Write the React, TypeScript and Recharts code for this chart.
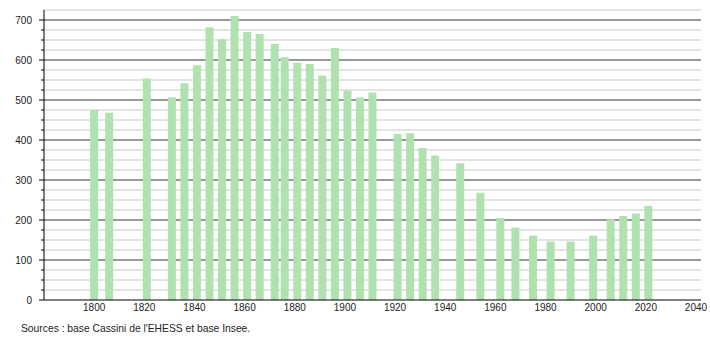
import React from "react";
import { ComposedChart, Bar, XAxis, YAxis, CartesianGrid } from "recharts";

const years = [1800, 1806, 1821, 1831, 1836, 1841, 1846, 1851, 1856, 1861, 1866, 1872, 1876, 1881, 1886, 1891, 1896, 1901, 1906, 1911, 1921, 1926, 1931, 1936, 1946, 1954, 1962, 1968, 1975, 1982, 1990, 1999, 2006, 2011, 2016, 2021];
const population = [475, 468, 554, 507, 542, 587, 682, 652, 710, 670, 665, 640, 607, 593, 590, 561, 630, 523, 507, 519, 415, 417, 380, 361, 342, 268, 205, 181, 161, 146, 146, 161, 202, 210, 216, 235];
const xTicks = [1800, 1820, 1840, 1860, 1880, 1900, 1920, 1940, 1960, 1980, 2000, 2020, 2040];
const majorValues = [100, 200, 300, 400, 500, 600, 700];
const minorValues = [25, 50, 75, 125, 150, 175, 225, 250, 275, 325, 350, 375, 425, 450, 475, 525, 550, 575, 625, 650, 675, 725];
const yTicks = [0, 25, 50, 75, 100, 125, 150, 175, 200, 225, 250, 275, 300, 325, 350, 375, 400, 425, 450, 475, 500, 525, 550, 575, 600, 625, 650, 675, 700, 725];
const sourceText = "Sources : base Cassini de l'EHESS et base Insee.";

const data = years.map((y, i) => ({ year: y, pop: population[i] }));

const FONT = "'Liberation Sans', Arial, sans-serif";
const AXIS_X = 44;

const YTick = (props: any) => {
  const { y, payload } = props;
  const v = payload.value;
  const major = v % 100 === 0;
  if (v === 725) return <g />;
  return (
    <g>
      <line x1={major ? AXIS_X - 5 : AXIS_X - 3} x2={AXIS_X} y1={y} y2={y} stroke="#000" strokeWidth={1} />
      {major && (
        <text x={AXIS_X - 12} y={y} dy={4} textAnchor="end" fontSize={10} fontFamily={FONT} fill="#222">
          {v}
        </text>
      )}
    </g>
  );
};

export default function App() {
  return (
    <div style={{ position: "absolute", left: 0, top: 0, width: 710, height: 340, background: "#fff" }}>
      <ComposedChart width={710} height={340} data={data} margin={{ top: 10, right: 9, bottom: 20, left: 0 }}>
        <CartesianGrid vertical={false} horizontalValues={minorValues} stroke="#c8c8c8" strokeWidth={1} />
        <CartesianGrid vertical={false} horizontalValues={majorValues} stroke="#333" strokeWidth={1} />
        <XAxis
          dataKey="year"
          type="number"
          domain={[1780, 2042]}
          ticks={xTicks}
          allowDataOverflow
          interval={0}
          tickLine={false}
          tickSize={0}
          axisLine={{ stroke: "#000" }}
          tick={{ fontSize: 10, fontFamily: FONT, fill: "#222" }}
          tickMargin={4}
          height={20}
        />
        <YAxis
          type="number"
          domain={[0, 725]}
          ticks={yTicks}
          interval={0}
          width={44}
          tickLine={false}
          axisLine={{ stroke: "#000" }}
          tick={<YTick />}
          allowDataOverflow
        />
        <Bar dataKey="pop" fill="#b0e2b0" barSize={8} isAnimationActive={false} />
      </ComposedChart>
      <div style={{ position: "absolute", left: 21, top: 323, fontSize: 10.3, fontFamily: FONT, color: "#222", whiteSpace: "nowrap" }}>
        {sourceText}
      </div>
    </div>
  );
}
